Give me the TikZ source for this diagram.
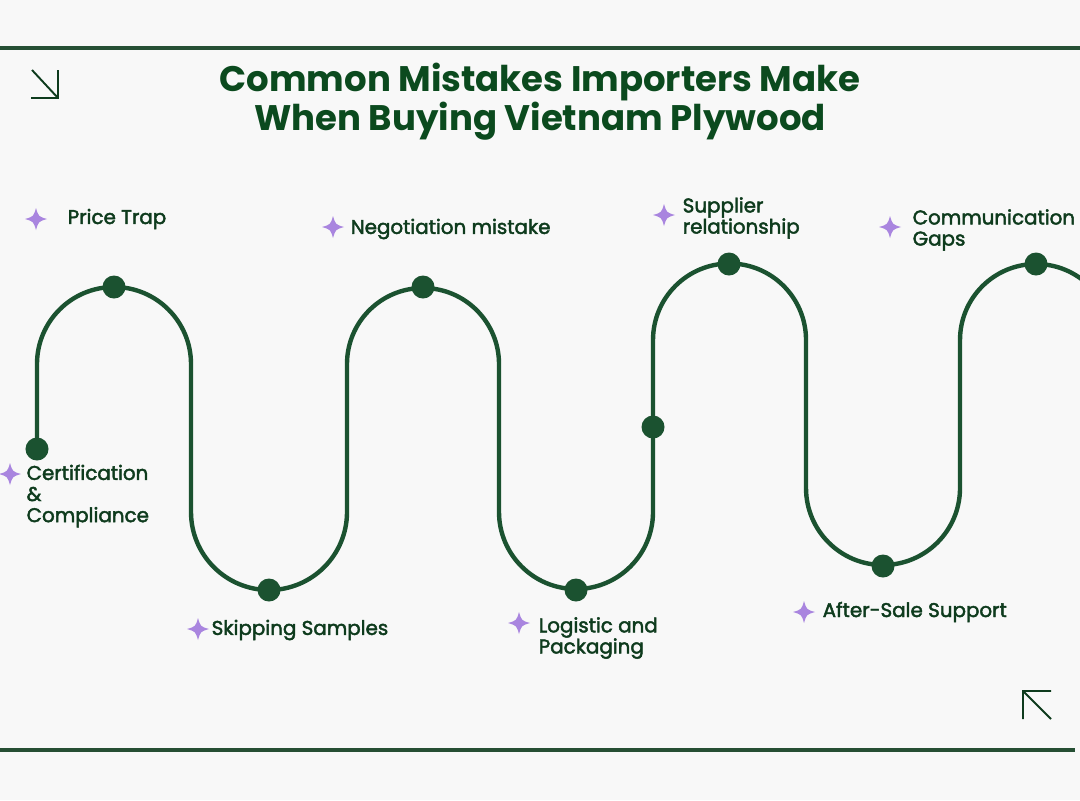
\documentclass[tikz,border=0pt]{standalone}
\usepackage{fontspec}
\setmainfont{Poppins}
\newfontfamily\labelfont{Poppins}[FakeBold=2.2]
\usepackage{tikz}
\usetikzlibrary{arrows.meta,positioning,calc}
\definecolor{bgc}{HTML}{F8F8F8}
\definecolor{leaf}{HTML}{1B5230}
\definecolor{ink}{HTML}{0E3B1D}
\definecolor{titlec}{HTML}{0B4A1E}
\definecolor{lilac}{HTML}{A985DF}
\newcommand{\sparkle}[1]{%
  \fill[lilac] ($(#1)+(0,-11)$) .. controls ($(#1)+(2.5,-2.5)$) .. ($(#1)+(11,0)$)
    .. controls ($(#1)+(2.5,2.5)$) .. ($(#1)+(0,11)$)
    .. controls ($(#1)+(-2.5,2.5)$) .. ($(#1)+(-11,0)$)
    .. controls ($(#1)+(-2.5,-2.5)$) .. cycle;}
\begin{document}
\begin{tikzpicture}[x=0.01cm, y=-0.01cm,
    wave/.style={draw=leaf, line width=4.4pt*0.2845},
    dot/.style={circle, fill=leaf, inner sep=0pt, minimum size=0.23cm},
    lbl/.style={anchor=west, align=left, inner sep=0pt, text=ink, font=\labelfont\fontsize{5.65pt}{6pt}\selectfont},
    rule/.style={draw=ink!90, line width=0.9pt},
    corner/.style={draw=ink, line width=0.55pt}
]
\useasboundingbox (0,0) rectangle (1080,800);
\fill[bgc] (0,0) rectangle (1080,800);
\clip (0,0) rectangle (1080,800);

% frame rules
\draw[rule] (0,48) -- (1080,48);
\draw[rule] (0,750) -- (1075,750);

% corner arrows
\draw[corner] (32,70) -- (58,98) (31,98) -- (58,98) -- (58,70);
\draw[corner] (1051,719) -- (1023,691) (1023,719) -- (1023,691) -- (1051,691);

% title
\node[text=titlec, font=\bfseries\fontsize{10.1pt}{11.1pt}\selectfont, align=center] (title) at (540,102)
  {Common Mistakes Importers Make\\When Buying Vietnam Plywood};

% wave
\draw[wave] (37,449) -- (37,364) arc[start angle=180, end angle=360, radius=77]
  -- (191,512) arc[start angle=180, end angle=0, radius=78]
  -- (347,364) arc[start angle=180, end angle=360, radius=76]
  -- (499,512) arc[start angle=180, end angle=0, radius=77]
  -- (653,340) arc[start angle=180, end angle=360, radius=76.5]
  -- (806,488) arc[start angle=180, end angle=0, radius=77]
  -- (960,340) arc[start angle=180, end angle=360, radius=76]
  -- (1112,620);

% milestones
\foreach \n/\x/\y in {d1/37/449, d2/114/287, d3/269/590, d4/423/287, d5/576/590,
                      d6/653/427, d7/729/264, d8/883/566, d9/1036/264}
  \node[dot] (\n) at (\x,\y) {};

% labels
\node[lbl] (price) at (67,219) {Price Trap};
\node[lbl] (nego) at (350,229) {Negotiation mistake};
\node[lbl] (supp) at (682,218) {Supplier\\relationship};
\node[lbl] (comm) at (912,230) {Communication\\Gaps};
\node[lbl] (cert) at (26,496) {Certification\\\&\\Compliance};
\node[lbl] (skip) at (211,630) {Skipping Samples};
\node[lbl] (logi) at (538,638) {Logistic and\\Packaging};
\node[lbl] (after) at (822,612) {After-Sale Support};

% sparkles
\coordinate (s1) at (36,219);
\coordinate (s2) at (333,227);
\coordinate (s3) at (664,215);
\coordinate (s4) at (890,227);
\coordinate (s5) at (10,474);
\coordinate (s6) at (198,629);
\coordinate (s7) at (519,623);
\coordinate (s8) at (804,612);
\foreach \s in {s1,s2,s3,s4,s5,s6,s7,s8} {\sparkle{\s}}
\end{tikzpicture}
\end{document}
